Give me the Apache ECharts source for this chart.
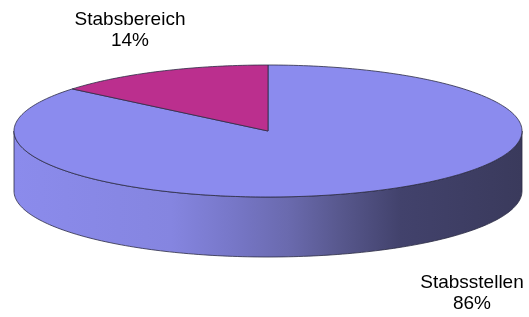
<!DOCTYPE html>
<html>
<head>
<meta charset="utf-8">
<script src="https://cdn.jsdelivr.net/npm/echarts@6/dist/echarts.min.js"></script>
<style>
  html, body { margin: 0; padding: 0; background: #fff; }
  #pieChart { width: 529px; height: 317px; }
</style>
</head>
<body>
<div id="pieChart"></div>
<script>
// data
const categories = ['Stabsstellen', 'Stabsbereich'];
const values = [86, 14];
const sliceColors = ['#8b8bee', '#bb2f8e'];

// layout of the tilted pie
const cx = 268, cy = 131, rx = 254, ry = 66, depth = 60;
const labelPos = [[472, 293], [130, 30]];

const total = values.reduce((a, b) => a + b, 0);

// point on the ellipse, angle clockwise from 12 o'clock
function pt(a, dy) {
  return [cx + rx * Math.sin(a), cy - ry * Math.cos(a) + (dy || 0)];
}
function arc(a0, a1, dy) {
  const n = Math.max(2, Math.ceil(Math.abs(a1 - a0) / 0.02));
  const out = [];
  for (let i = 0; i <= n; i++) out.push(pt(a0 + (a1 - a0) * i / n, dy));
  return out;
}

const sideGradient = new echarts.graphic.LinearGradient(cx - rx, 0, cx + rx, 0, [
  { offset: 0, color: '#8b8bec' },
  { offset: 0.31, color: '#8585e0' },
  { offset: 0.43, color: '#7777c8' },
  { offset: 0.54, color: '#6a6aae' },
  { offset: 0.64, color: '#58588e' },
  { offset: 0.76, color: '#42426c' },
  { offset: 1, color: '#3a3a5c' }
], true);

let myChart = echarts.init(document.getElementById('pieChart'));

myChart.setOption({
  animation: false,
  series: [{
    type: 'custom',
    coordinateSystem: 'none',
    data: values.map((v, i) => [v, i]),
    renderItem: function (params, api) {
      const i = params.dataIndex;
      let before = 0;
      for (let k = 0; k < i; k++) before += values[k];
      const a0 = before / total * Math.PI * 2;
      const a1 = (before + values[i]) / total * Math.PI * 2;
      const children = [];

      // visible side wall: front half of the ellipse (90deg..270deg)
      const s0 = Math.max(a0, Math.PI / 2), s1 = Math.min(a1, Math.PI * 1.5);
      if (s1 > s0) {
        const top = arc(s0, s1, 0);
        const bottom = arc(s1, s0, depth);
        children.push({
          type: 'polygon',
          z2: 1,
          shape: { points: top.concat(bottom) },
          style: { fill: sideGradient, stroke: '#2c2c44', lineWidth: 0.8 }
        });
      }

      // top face
      children.push({
        type: 'polygon',
        z2: 10,
        shape: { points: [[cx, cy]].concat(arc(a0, a1, 0)) },
        style: { fill: sliceColors[i], stroke: '#2c2c44', lineWidth: 0.8 }
      });

      // label
      const pct = Math.round(values[i] / total * 100);
      children.push({
        type: 'text',
        z2: 20,
        x: labelPos[i][0],
        y: labelPos[i][1],
        style: {
          text: categories[i] + '\n' + pct + '%',
          fontFamily: 'Liberation Sans, Arial, sans-serif',
          fontSize: 19,
          lineHeight: 21,
          fill: '#000',
          align: 'center',
          verticalAlign: 'middle'
        }
      });

      return { type: 'group', children: children };
    }
  }]
});
</script>
</body>
</html>
